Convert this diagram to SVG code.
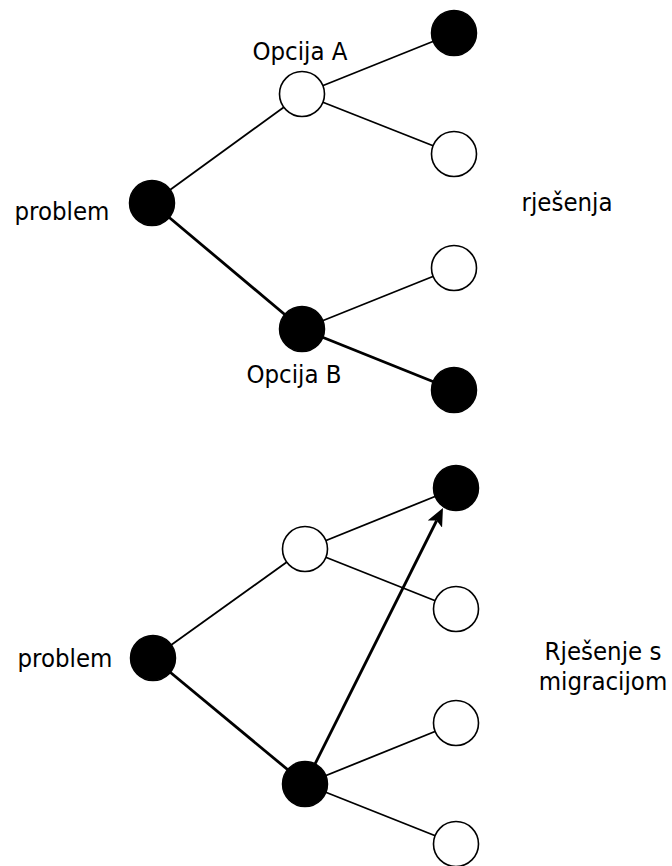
<svg xmlns="http://www.w3.org/2000/svg" width="672" height="866" viewBox="0 0 672 866">
<style>
.t{font-family:"DejaVu Sans Condensed","DejaVu Sans",sans-serif;font-stretch:condensed;font-size:25.5px;fill:#000;text-anchor:middle}
.thin{stroke:#000;stroke-width:1.8;fill:none}
.thick{stroke:#000;stroke-width:2.8;fill:none}
.b{fill:#000;stroke:#000;stroke-width:1.5}
.w{fill:#fff;stroke:#000;stroke-width:1.6}
</style>
<defs>
<marker id="arr" markerUnits="userSpaceOnUse" markerWidth="18" markerHeight="16" refX="4" refY="8" orient="auto">
<path d="M0,0 L18,8 L0,16 L4,8 z" fill="#000"/>
</marker>
</defs>
<g id="connectors">
<line class="thin" x1="152" y1="203" x2="302" y2="94"/>
<line class="thin" x1="302" y1="94" x2="454" y2="33"/>
<line class="thin" x1="302" y1="94" x2="454" y2="154"/>
<line class="thick" x1="152" y1="203" x2="302" y2="329"/>
<line class="thin" x1="302" y1="329" x2="454" y2="268"/>
<line class="thick" x1="302" y1="329" x2="454" y2="390"/>
<line class="thin" x1="153" y1="658" x2="305" y2="549"/>
<line class="thin" x1="305" y1="549" x2="456" y2="488"/>
<line class="thin" x1="305" y1="549" x2="456" y2="609"/>
<line class="thick" x1="153" y1="658" x2="305" y2="784"/>
<line class="thin" x1="305" y1="784" x2="456" y2="723"/>
<line class="thin" x1="305" y1="784" x2="456" y2="844"/>
<line class="thick" x1="305" y1="784" x2="436.7" y2="520.5" marker-end="url(#arr)"/>
</g>
<g id="top-root"><circle class="b" cx="152" cy="203" r="22.5"/></g>
<g id="top-a"><circle class="w" cx="302" cy="94" r="22.5"/></g>
<g id="top-b"><circle class="b" cx="302" cy="329" r="22.5"/></g>
<g id="top-s1"><circle class="b" cx="454" cy="33" r="22.5"/></g>
<g id="top-s2"><circle class="w" cx="454" cy="154" r="22.5"/></g>
<g id="top-s3"><circle class="w" cx="454" cy="268" r="22.5"/></g>
<g id="top-s4"><circle class="b" cx="454" cy="390" r="22.5"/></g>
<g id="bot-root"><circle class="b" cx="153" cy="658" r="22.5"/></g>
<g id="bot-a"><circle class="w" cx="305" cy="549" r="22.5"/></g>
<g id="bot-b"><circle class="b" cx="305" cy="784" r="22.5"/></g>
<g id="bot-s1"><circle class="b" cx="456" cy="488" r="22.5"/></g>
<g id="bot-s2"><circle class="w" cx="456" cy="609" r="22.5"/></g>
<g id="bot-s3"><circle class="w" cx="456" cy="723" r="22.5"/></g>
<g id="bot-s4"><circle class="w" cx="456" cy="844" r="22.5"/></g>
<g id="labels">
<text class="t" x="300" y="60">Opcija A</text>
<text class="t" x="294" y="383">Opcija B</text>
<text class="t" x="62" y="220">problem</text>
<text class="t" x="567" y="211">rješenja</text>
<text class="t" x="65" y="667">problem</text>
<text class="t" x="603" y="660"><tspan x="603" y="660">Rješenje s</tspan><tspan x="603" y="690">migracijom</tspan></text>
</g>
</svg>
